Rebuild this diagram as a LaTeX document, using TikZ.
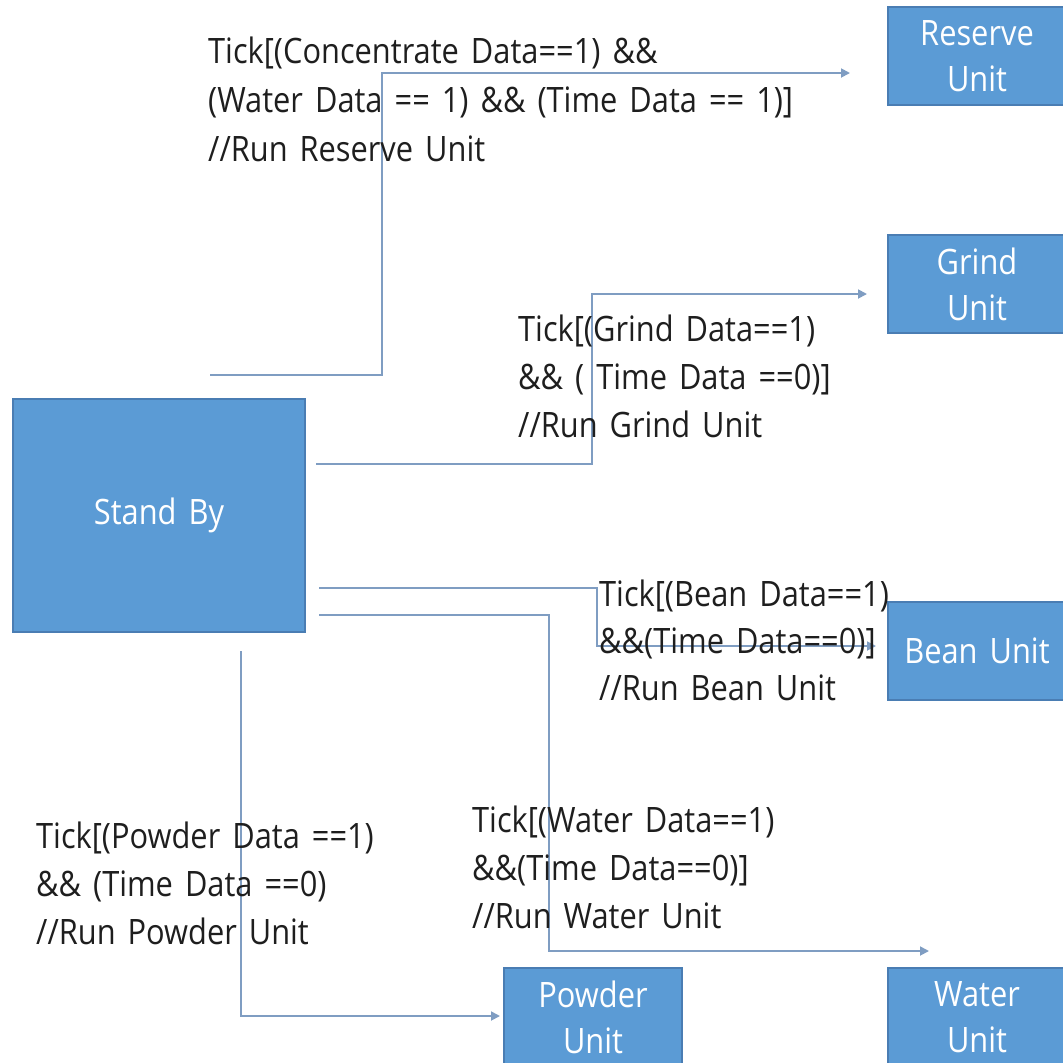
\documentclass[tikz,border=0pt]{standalone}
\usepackage{fontspec}
\setmainfont{Open Sans}[FakeStretch=0.88, WordSpace=1.5]
\usetikzlibrary{arrows.meta}
\definecolor{boxblue}{HTML}{5B9BD5}
\definecolor{boxedge}{HTML}{4A7DB3}
\definecolor{wire}{HTML}{7F9DC2}
\definecolor{ink}{HTML}{1E1E1E}

\begin{document}
\begin{tikzpicture}[x=1pt,y=-1pt,
  unitbox/.style={draw=boxedge, line width=1.2pt, fill=boxblue, text=white,
    inner sep=0pt, align=center, minimum width=178pt, minimum height=98pt,
    font=\fontsize{35}{46}\selectfont},
  lbl/.style={anchor=base west, inner sep=0pt, text=ink,
    font=\fontsize{35}{48}\selectfont},
  wireline/.style={draw=wire, line width=1.8pt,
    -{Triangle[length=9pt,width=9pt]}},
]
\useasboundingbox (0,0) rectangle (1063,1063);

% state boxes
\node[unitbox, minimum width=292pt, minimum height=233pt] (standby) at (159,515.5) {Stand By};
\node[unitbox] (reserve) at (977,56)   {Reserve\\Unit};
\node[unitbox] (grind)   at (977,284)  {Grind\\Unit};
\node[unitbox] (bean)    at (977,651)  {Bean Unit};
\node[unitbox] (powder)  at (593,1017) {Powder\\Unit};
\node[unitbox] (water)   at (977,1017) {Water\\Unit};

% connector end points and bends
\coordinate (rsA) at (210,375);  \coordinate (rsBend) at (382,73);  \coordinate (rsEnd) at (850,73);
\coordinate (gdA) at (316,464);  \coordinate (gdBend) at (592,294); \coordinate (gdEnd) at (867,294);
\coordinate (bnA) at (319,588);  \coordinate (bnBend) at (597,646); \coordinate (bnEnd) at (876,646);
\coordinate (wtA) at (319,615);  \coordinate (wtBend) at (549,951); \coordinate (wtEnd) at (929,951);
\coordinate (pwA) at (241,651);  \coordinate (pwEnd) at (500,1016);

% transitions
\draw[wireline] (rsA) -| (rsBend) -- (rsEnd);
\draw[wireline] (gdA) -| (gdBend) -- (gdEnd);
\draw[wireline] (bnA) -| (bnBend) -- (bnEnd);
\draw[wireline] (wtA) -| (wtBend) -- (wtEnd);
\draw[wireline] (pwA) |- (pwEnd);

% guard labels
\node[lbl] (rs1) at (208,63)  {Tick[(Concentrate Data==1) \&\&};
\node[lbl] (rs2) at (208,112) {(Water Data == 1) \&\& (Time Data == 1)]};
\node[lbl] (rs3) at (208,161) {//Run Reserve Unit};

\node[lbl] (gd1) at (518,341) {Tick[(Grind Data==1)};
\node[lbl] (gd2) at (518,389) {\&\& ( Time Data ==0)]};
\node[lbl] (gd3) at (518,437) {//Run Grind Unit};

\node[lbl] (bn1) at (599,606) {Tick[(Bean Data==1)};
\node[lbl] (bn2) at (599,653) {\&\&(Time Data==0)]};
\node[lbl] (bn3) at (599,700) {//Run Bean Unit};

\node[lbl] (wt1) at (472,832) {Tick[(Water Data==1)};
\node[lbl] (wt2) at (472,880) {\&\&(Time Data==0)]};
\node[lbl] (wt3) at (472,928) {//Run Water Unit};

\node[lbl] (pw1) at (36,848) {Tick[(Powder Data ==1)};
\node[lbl] (pw2) at (36,896) {\&\& (Time Data ==0)};
\node[lbl] (pw3) at (36,944) {//Run Powder Unit};
\end{tikzpicture}
\end{document}
